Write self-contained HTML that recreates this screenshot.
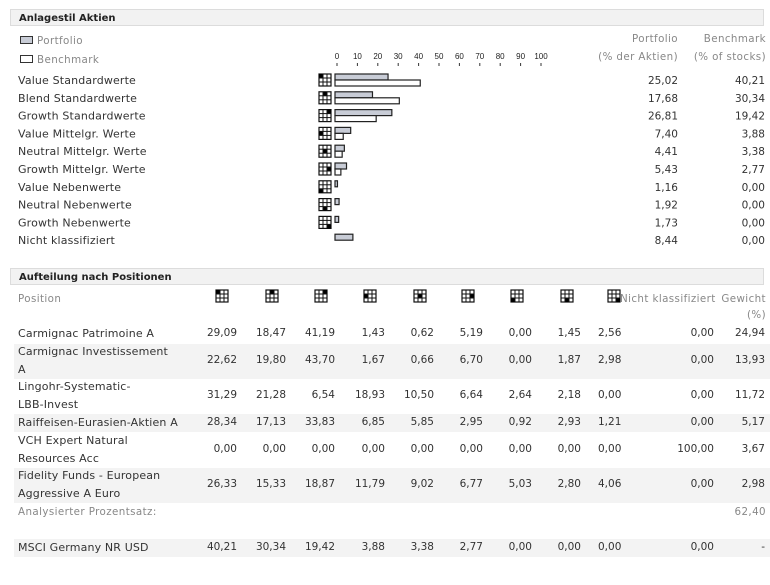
<!DOCTYPE html>
<html><head><meta charset="utf-8"><style>
body{margin:0;width:770px;height:562px;background:#fff;font-family:"DejaVu Sans","Liberation Sans",sans-serif;font-size:10.5px;color:#333;position:relative;overflow:hidden}
.a{position:absolute;white-space:nowrap}
.hdr{position:absolute;left:10px;width:754px;height:17px;background:#f2f2f2;border:1px solid #dcdcdc;font-weight:bold;font-size:10px;line-height:17px;padding-left:8px;box-sizing:border-box;color:#222}
.g{color:#888;font-size:10.3px;letter-spacing:0.4px}
.nm{font-size:11px;letter-spacing:0.15px}
.r{text-align:right}
.shade{position:absolute;left:14px;width:756px;background:#f3f3f3}
</style></head><body>
<div class="hdr" style="top:9px">Anlagestil Aktien</div>
<div class="a g" style="left:20px;top:35px"><span style="display:inline-block;width:11px;height:6px;background:#c8ccd6;border:1px solid #333;margin-right:4px"></span>Portfolio</div>
<div class="a g" style="left:20px;top:54px"><span style="display:inline-block;width:11px;height:6px;background:#fff;border:1px solid #333;margin-right:4px"></span>Benchmark</div>
<div class="a g r" style="left:580px;width:98px;top:33px">Portfolio</div>
<div class="a g r" style="left:580px;width:98px;top:51px">(% der Aktien)</div>
<div class="a g r" style="left:670px;width:96px;top:33px">Benchmark</div>
<div class="a g r" style="left:670px;width:96px;top:51px">(% of stocks)</div>
<svg id="chart" class="a" style="left:0;top:0" width="770" height="262"></svg>
<div class="hdr" style="top:268px">Aufteilung nach Positionen</div>
<div id="tbl"></div>
<script>
const categories=["Value Standardwerte","Blend Standardwerte","Growth Standardwerte","Value Mittelgr. Werte","Neutral Mittelgr. Werte","Growth Mittelgr. Werte","Value Nebenwerte","Neutral Nebenwerte","Growth Nebenwerte","Nicht klassifiziert"];
const portfolio=[25.02,17.68,26.81,7.40,4.41,5.43,1.16,1.92,1.73,8.44];
const benchmark=[40.21,30.34,19.42,3.88,3.38,2.77,0.00,0.00,0.00,0.00];
const ticks=[0,10,20,30,40,50,60,70,80,90,100];
const NS="http://www.w3.org/2000/svg";
const svg=document.getElementById('chart');
const x0=335,k=2.12;
const xs=v=>x0+v*k;
const tx0=337,tk=2.04;
const rowY=i=>80+i*17.8;
const fmt=v=>v.toFixed(2).replace('.',',');
function mk(tag,attrs,parent){const e=document.createElementNS(NS,tag);for(const a in attrs)e.setAttribute(a,attrs[a]);(parent||svg).appendChild(e);return e;}
function grid(parent,x,y,idx){
  const g=mk('g',{},parent);
  mk('rect',{x:x,y:y,width:12,height:12,fill:'#fff',stroke:'#111','stroke-width':1.2},g);
  if(idx>=0&&idx<9){const c=idx%3,r=Math.floor(idx/3);mk('rect',{x:x+c*4,y:y+r*4,width:4,height:4,fill:'#000'},g);}
  for(let j=1;j<3;j++){mk('line',{x1:x+j*4,y1:y,x2:x+j*4,y2:y+12,stroke:'#111','stroke-width':1},g);mk('line',{x1:x,y1:y+j*4,x2:x+12,y2:y+j*4,stroke:'#111','stroke-width':1},g);}
  return g;
}
ticks.forEach(t=>{
  const tx=mk('text',{x:tx0+t*tk,y:59,'font-size':8,'text-anchor':'middle',fill:'#222','font-family':'Liberation Sans, sans-serif'});tx.textContent=t;
  
  
  mk('line',{x1:tx0+t*tk,y1:63,x2:tx0+t*tk,y2:66,stroke:'#333'});
});
categories.forEach((c,i)=>{
  const y=rowY(i);
  const t=mk('text',{x:18,y:y+4,'font-size':11,'letter-spacing':0.15,fill:'#333','font-family':'DejaVu Sans, Liberation Sans, sans-serif'});t.textContent=c;
  
  
  if(i<9){const g=grid(svg,319,y-6,i);}
  const bp=mk('rect',{x:x0,y:y-6,width:Math.max(portfolio[i]*k,0),height:6,fill:'#c8ccd6',stroke:'#222','stroke-width':1.2});
  
  
  const bb=mk('rect',{x:x0,y:y,width:Math.max(benchmark[i]*k,0),height:6,fill:'#fff',stroke:'#222','stroke-width':1.2});
  
  
  const vp=mk('text',{x:678,y:y+4,'font-size':10.5,'text-anchor':'end',fill:'#333','font-family':'DejaVu Sans, sans-serif'});vp.textContent=fmt(portfolio[i]);
  
  
  const vb=mk('text',{x:765,y:y+4,'font-size':10.5,'text-anchor':'end',fill:'#333','font-family':'DejaVu Sans, sans-serif'});vb.textContent=fmt(benchmark[i]);
  
  
});

const rows=[
 {n:["Carmignac Patrimoine A"],v:["29,09","18,47","41,19","1,43","0,62","5,19","0,00","1,45","2,56","0,00","24,94"],y:334,s:0},
 {n:["Carmignac Investissement","A"],v:["22,62","19,80","43,70","1,67","0,66","6,70","0,00","1,87","2,98","0,00","13,93"],y:361,s:1,h:35},
 {n:["Lingohr-Systematic-","LBB-Invest"],v:["31,29","21,28","6,54","18,93","10,50","6,64","2,64","2,18","0,00","0,00","11,72"],y:396,s:0},
 {n:["Raiffeisen-Eurasien-Aktien A"],v:["28,34","17,13","33,83","6,85","5,85","2,95","0,92","2,93","1,21","0,00","5,17"],y:423,s:1,h:18},
 {n:["VCH Expert Natural","Resources Acc"],v:["0,00","0,00","0,00","0,00","0,00","0,00","0,00","0,00","0,00","100,00","3,67"],y:450,s:0},
 {n:["Fidelity Funds - European","Aggressive A Euro"],v:["26,33","15,33","18,87","11,79","9,02","6,77","5,03","2,80","4,06","0,00","2,98"],y:485,s:1,h:35},
 {n:["MSCI Germany NR USD"],v:["40,21","30,34","19,42","3,88","3,38","2,77","0,00","0,00","0,00","0,00","-"],y:548,s:1,h:18}
];
const colR=[237,286,335,385,434,483,532,581,614,714,765];
const tbl=document.getElementById('tbl');
function div(cls,style,text,name){const d=document.createElement('div');d.className=cls;d.style.cssText=style;if(text!=null)d.textContent=text;tbl.appendChild(d);return d;}
rows.forEach(r=>{if(r.s)div('shade',`top:${r.y-r.h/2}px;height:${r.h}px`,null,'row-shade');});
div('a g','left:18px;top:293px','Position','position-header');
const tsvg=document.createElementNS(NS,'svg');tsvg.setAttribute('width','770');tsvg.setAttribute('height','300');tsvg.style.cssText='position:absolute;left:0;top:285px';


tbl.appendChild(tsvg);
[216,266,315,364,414,462,511,561,608].forEach((x,i)=>{grid(tsvg,x,5,i);});
div('a g','left:620px;top:293px','Nicht klassifiziert','unclassified-header');
div('a g r','left:710px;width:56px;top:293px','Gewicht','weight-header');
div('a g r','left:710px;width:56px;top:309px','(%)','weight-unit');
rows.forEach(r=>{
  if(r.n.length==1)div('a nm',`left:18px;top:${r.y-7}px`,r.n[0],'fund-name');
  else{div('a nm',`left:18px;top:${r.y-16}px`,r.n[0],'fund-name');div('a nm',`left:18px;top:${r.y+2}px`,r.n[1],'fund-name-line2');}
  r.v.forEach((v,j)=>{
    if(j==8)div('a',`left:598px;top:${r.y-7}px`,v,'cell-value');
    else div('a r',`left:${colR[j]-60}px;width:60px;top:${r.y-7}px`,v,'cell-value');
  });
});
div('a g','left:18px;top:506px','Analysierter Prozentsatz:','analyzed-label');
div('a g r','left:700px;width:66px;top:506px','62,40','analyzed-value');
</script>
</body></html>
